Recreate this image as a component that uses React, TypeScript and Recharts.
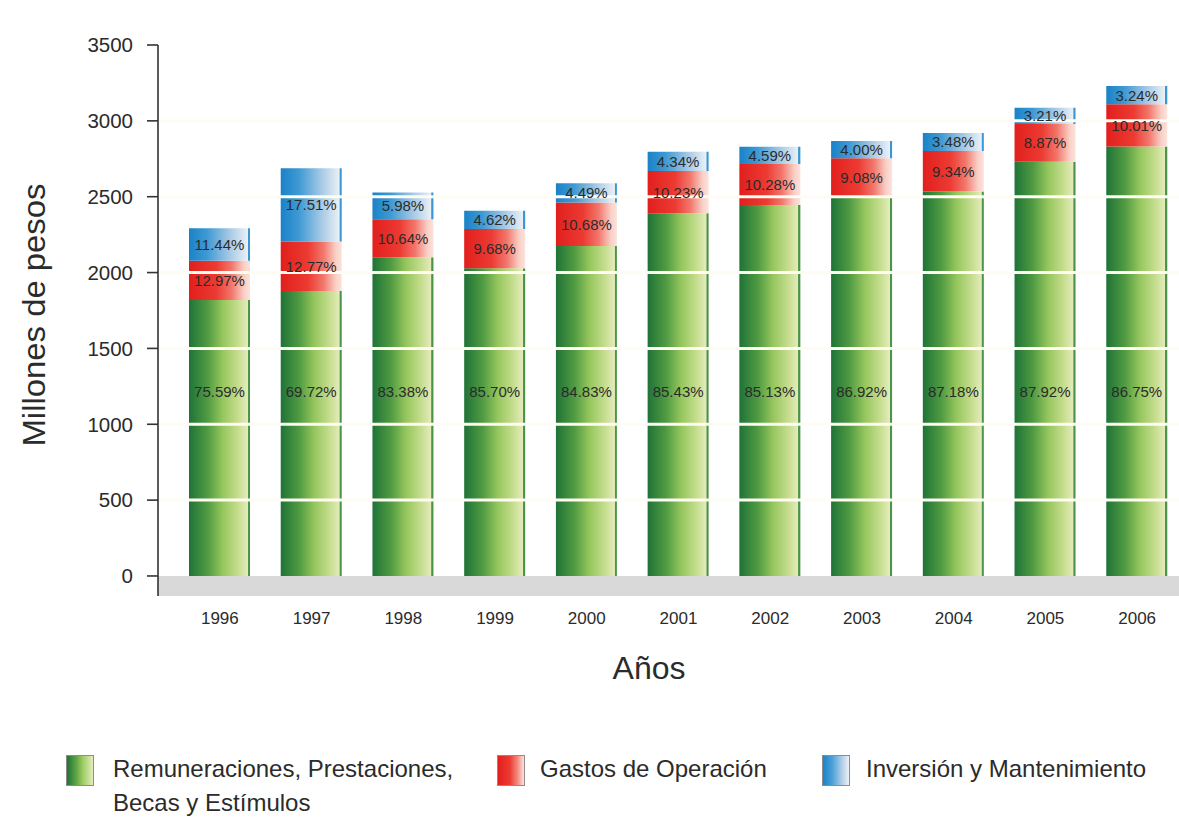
import React from 'react';
import { BarChart, Bar, XAxis, YAxis, ReferenceArea, ReferenceLine, LabelList } from 'recharts';

const years = ['1996', '1997', '1998', '1999', '2000', '2001', '2002', '2003', '2004', '2005', '2006'];
const remuneraciones = [1819, 1879, 2101, 2028, 2175, 2391, 2446, 2494, 2535, 2731, 2831];
const gastos = [259, 325, 250, 259, 286, 279, 270, 259, 267, 249, 278];
const inversion = [214, 484, 176, 121, 128, 127, 114, 115, 118, 107, 121];

const remPct = ['75.59%', '69.72%', '83.38%', '85.70%', '84.83%', '85.43%', '85.13%', '86.92%', '87.18%', '87.92%', '86.75%'];
const gasPct = ['12.97%', '12.77%', '10.64%', '9.68%', '10.68%', '10.23%', '10.28%', '9.08%', '9.34%', '8.87%', '10.01%'];
const invPct = ['11.44%', '17.51%', '5.98%', '4.62%', '4.49%', '4.34%', '4.59%', '4.00%', '3.48%', '3.21%', '3.24%'];

const yTicks = [0, 500, 1000, 1500, 2000, 2500, 3000, 3500];
const gridValues = [500, 1000, 1500, 2000, 2500, 3000];
const floorDepth = -132;
const greenLabelLevel = 1215;
const xPadLeft = 16;

const seriesNames = ['Remuneraciones, Prestaciones,\nBecas y Estímulos', 'Gastos de Operación', 'Inversión y Mantenimiento'];

const data = years.map((y, i) => ({
  year: y,
  rem: remuneraciones[i],
  gas: gastos[i],
  inv: inversion[i],
  remPct: remPct[i],
  gasPct: gasPct[i],
  invPct: invPct[i],
}));

const FONT = '"Liberation Sans", Arial, Helvetica, sans-serif';
const TEXT = '#2b2b2b';

const GreenLabel = (props: any) => {
  const { x, y, width, height, value, index } = props;
  const total = remuneraciones[index];
  const cy = y + height - height * (greenLabelLevel / total);
  return (
    <text x={x + width / 2} y={cy} textAnchor="middle" dominantBaseline="central" fontSize={15} fill={TEXT} fontFamily={FONT}>
      {value}
    </text>
  );
};

const CenterLabel = (props: any) => {
  const { x, y, width, height, value } = props;
  return (
    <text x={x + width / 2} y={y + height / 2} textAnchor="middle" dominantBaseline="central" fontSize={15} fill={TEXT} fontFamily={FONT}>
      {value}
    </text>
  );
};

const FloorShape = (props: any) => {
  const x0 = props.x - xPadLeft;
  return <rect x={x0} y={props.y} width={1300 - x0} height={props.height} fill="#d9d9d9" />;
};

const YTitle = (props: any) => {
  const vb = props.viewBox || {};
  const cx = vb.x + 45;
  const cy = vb.y + vb.height / 2 - 5.5;
  return (
    <text
      x={cx}
      y={cy}
      transform={`rotate(-90, ${cx}, ${cy})`}
      textAnchor="middle"
      fontSize={32}
      fill={TEXT}
      fontFamily={FONT}
      textLength={263}
      lengthAdjust="spacingAndGlyphs"
    >
      Millones de pesos
    </text>
  );
};

const XTitle = (props: any) => {
  const vb = props.viewBox || {};
  return (
    <text x={vb.x + vb.width / 2 - 21.5} y={vb.y + 83} textAnchor="middle" fontSize={32} fill={TEXT} fontFamily={FONT}>
      Años
    </text>
  );
};

const swatchGradients = [
  'linear-gradient(to right, #1f7337 0%, #5fa345 35%, #9ccb62 60%, #e4edbd 100%)',
  'linear-gradient(to right, #e31f1c 0%, #ec3a32 45%, #f38a7e 75%, #fbe4de 100%)',
  'linear-gradient(to right, #1b83c8 0%, #4aa0d7 35%, #a9cbe6 70%, #eef2f7 100%)',
];

const legendPos = [
  { swatch: 66, text: 113 },
  { swatch: 497, text: 540 },
  { swatch: 822, text: 866 },
];

export default function App() {
  return (
    <div style={{ position: 'absolute', left: 0, top: 0, width: 1179, height: 838, overflow: 'hidden', background: '#ffffff', fontFamily: FONT }}>
      <BarChart
        width={1190}
        height={700}
        data={data}
        margin={{ top: 45, right: 7, left: 0, bottom: 0 }}
        barSize={61}
      >
        <defs>
          <linearGradient id="gGreen" x1="0" y1="0" x2="1" y2="0">
            <stop offset="0%" stopColor="#1f7337" />
            <stop offset="30%" stopColor="#4f9a42" />
            <stop offset="55%" stopColor="#95c65d" />
            <stop offset="80%" stopColor="#c5dd8e" />
            <stop offset="96%" stopColor="#e3ebbb" />
            <stop offset="97%" stopColor="#4c9447" />
            <stop offset="100%" stopColor="#4c9447" />
          </linearGradient>
          <linearGradient id="gRed" x1="0" y1="0" x2="1" y2="0">
            <stop offset="0%" stopColor="#e11f1c" />
            <stop offset="45%" stopColor="#ec3b33" />
            <stop offset="70%" stopColor="#f2776c" />
            <stop offset="90%" stopColor="#f9cfc6" />
            <stop offset="100%" stopColor="#fbe3dc" />
          </linearGradient>
          <linearGradient id="gBlue" x1="0" y1="0" x2="1" y2="0">
            <stop offset="0%" stopColor="#1a82c7" />
            <stop offset="30%" stopColor="#3f9ad4" />
            <stop offset="65%" stopColor="#a2c7e4" />
            <stop offset="96%" stopColor="#eaf0f6" />
            <stop offset="97%" stopColor="#3b97d4" />
            <stop offset="100%" stopColor="#3b97d4" />
          </linearGradient>
        </defs>
        <ReferenceArea y1={floorDepth} y2={0} fill="#d9d9d9" fillOpacity={1} stroke="none" shape={FloorShape} />
        <XAxis
          dataKey="year"
          interval={0}
          tickLine={false}
          axisLine={false}
          tickSize={0}
          tickMargin={16}
          height={104}
          padding={{ left: xPadLeft, right: 0 }}
          tick={{ fontSize: 17, fill: TEXT, fontFamily: FONT }}
          label={XTitle}
        />
        <YAxis
          width={158}
          domain={[floorDepth, 3500]}
          ticks={yTicks}
          allowDataOverflow
          tickSize={11}
          tickMargin={14}
          axisLine={{ stroke: '#333', strokeWidth: 1.6 }}
          tickLine={{ stroke: '#333', strokeWidth: 1.6 }}
          tick={{ fontSize: 20.5, fill: TEXT, fontFamily: FONT }}
          label={YTitle}
        />
        <Bar dataKey="rem" name={seriesNames[0]} stackId="a" fill="url(#gGreen)" isAnimationActive={false}>
          <LabelList dataKey="remPct" content={GreenLabel} />
        </Bar>
        <Bar dataKey="gas" name={seriesNames[1]} stackId="a" fill="url(#gRed)" isAnimationActive={false}>
          <LabelList dataKey="gasPct" content={CenterLabel} />
        </Bar>
        <Bar dataKey="inv" name={seriesNames[2]} stackId="a" fill="url(#gBlue)" isAnimationActive={false}>
          <LabelList dataKey="invPct" content={CenterLabel} />
        </Bar>
        {gridValues.map((v) => (
          <ReferenceLine key={v} y={v} stroke="#fffcf2" strokeWidth={3} />
        ))}
      </BarChart>
      {seriesNames.map((name, i) => (
        <div key={name}>
          <div
            style={{
              position: 'absolute',
              left: legendPos[i].swatch,
              top: 755,
              width: 26,
              height: 29,
              border: '1px solid #8c8c8c',
              background: swatchGradients[i],
            }}
          />
          <div
            style={{
              position: 'absolute',
              left: legendPos[i].text,
              top: 752,
              fontSize: 24,
              lineHeight: '34px',
              color: TEXT,
              whiteSpace: 'pre',
            }}
          >
            {name}
          </div>
        </div>
      ))}
    </div>
  );
}
